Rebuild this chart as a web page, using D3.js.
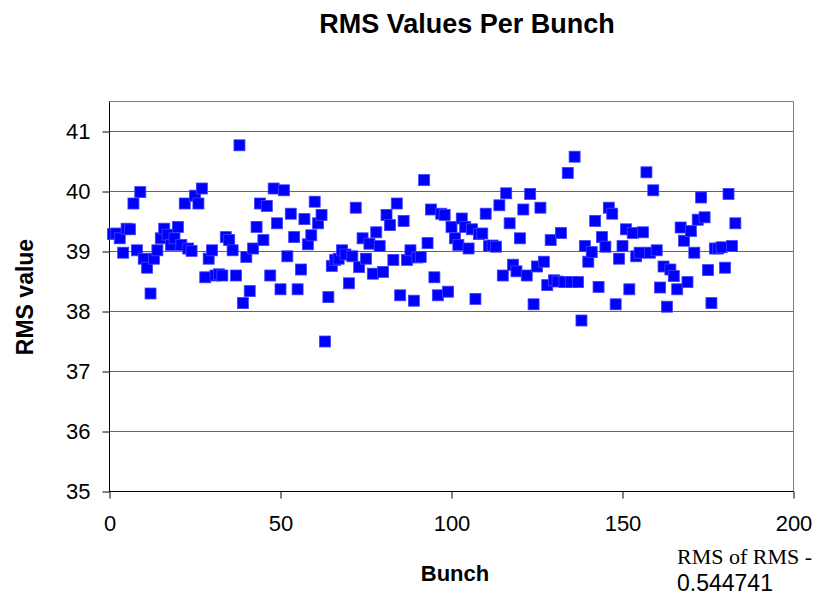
<!DOCTYPE html>
<html>
<head>
<meta charset="utf-8">
<script src="https://cdn.jsdelivr.net/npm/d3@7"></script>
<style>
  body { margin: 0; background: #fff; }
</style>
</head>
<body>
<div id="chart"></div>
<script>
// bunch numbers and their RMS values
let bunches = [
  1, 2, 3, 4, 5, 6, 7, 8, 9, 10, 11, 12, 13, 14, 15, 16, 17, 18, 19, 20,
  21, 22, 23, 24, 25, 26, 27, 28, 29, 30, 31, 32, 33, 34, 35, 36, 37, 38, 39, 40,
  41, 42, 43, 44, 45, 46, 47, 48, 49, 50, 51, 52, 53, 54, 55, 56, 57, 58, 59, 60,
  61, 62, 63, 64, 65, 66, 67, 68, 69, 70, 71, 72, 73, 74, 75, 76, 77, 78, 79, 80,
  81, 82, 83, 84, 85, 86, 87, 88, 89, 90, 91, 92, 93, 94, 95, 96, 97, 98, 99, 100,
  101, 102, 103, 104, 105, 106, 107, 108, 109, 110, 111, 112, 113, 114, 115, 116, 117, 118, 119, 120,
  121, 122, 123, 124, 125, 126, 127, 128, 129, 130, 131, 132, 133, 134, 135, 136, 137, 138, 139, 140,
  141, 142, 143, 144, 145, 146, 147, 148, 149, 150, 151, 152, 153, 154, 155, 156, 157, 158, 159, 160,
  161, 162, 163, 164, 165, 166, 167, 168, 169, 170, 171, 172, 173, 174, 175, 176, 177, 178, 179, 180,
  181, 182, 183
]

let rmsValues = [
  39.29, 39.30, 39.22, 38.98, 39.38, 39.37, 39.80, 39.02, 39.99, 38.88,
  38.73, 38.30, 38.88, 39.02, 39.22, 39.38, 39.28, 39.11, 39.22, 39.41,
  39.11, 39.80, 39.05, 39.01, 39.93, 39.80, 40.05, 38.57, 38.88, 39.02,
  38.60, 38.62, 38.60, 39.24, 39.19, 39.02, 38.60, 40.77, 38.14, 38.91,
  38.34, 39.05, 39.41, 39.80, 39.19, 39.76, 38.60, 40.05, 39.47, 38.37,
  40.02, 38.92, 39.63, 39.24, 38.37, 38.70, 39.54, 39.12, 39.27, 39.83,
  39.47, 39.61, 37.50, 38.24, 38.76, 38.86, 38.88, 39.02, 38.95, 38.47,
  38.92, 39.73, 38.74, 39.22, 38.88, 39.13, 38.63, 39.32, 39.09, 38.66,
  39.61, 39.44, 38.86, 39.80, 38.27, 39.51, 38.86, 39.02, 38.18, 38.90,
  38.91, 40.19, 39.14, 39.70, 38.57, 38.27, 39.63, 39.61, 38.33, 39.41,
  39.22, 39.11, 39.55, 39.41, 39.05, 39.37, 38.21, 39.29, 39.30, 39.63,
  39.09, 39.10, 39.08, 39.77, 38.60, 39.97, 39.47, 38.78, 38.67, 39.22,
  39.70, 38.60, 39.96, 38.12, 38.75, 39.73, 38.83, 38.44, 39.19, 38.52,
  38.50, 39.31, 38.49, 40.31, 38.49, 40.58, 38.49, 37.85, 39.09, 38.83,
  38.99, 39.51, 38.41, 39.24, 39.08, 39.73, 39.63, 38.12, 38.88, 39.09,
  39.37, 38.37, 39.31, 38.92, 38.98, 39.32, 40.32, 38.98, 40.02, 39.02,
  38.40, 38.75, 38.08, 38.70, 38.59, 38.37, 39.40, 39.18, 38.49, 39.34,
  38.98, 39.53, 39.90, 39.57, 38.69, 38.14, 39.05, 39.05, 39.07, 38.73,
  39.96, 39.09, 39.47
]

let xTicks = [0, 50, 100, 150, 200]
let yTicks = [35, 36, 37, 38, 39, 40, 41]

let sans = '"Liberation Sans", Arial, sans-serif'
let serif = '"Liberation Serif", "Times New Roman", serif'

let width = 825
let height = 597

let svg = d3.select('#chart')
  .append('svg')
  .attr('width', width)
  .attr('height', height)
  .style('font-family', sans)

let plot = { left: 109.5, right: 793.5, top: 101.5, bottom: 491.5 }

let xPositionScale = d3.scaleLinear().domain([0, 200]).range([plot.left, plot.right])
let yPositionScale = d3.scaleLinear().domain([35, 41.5]).range([plot.bottom, plot.top])

// grid lines
svg.append('g')
  .selectAll('line')
  .data(yTicks.filter(d => d > 35))
  .enter()
  .append('line')
  .attr('x1', plot.left)
  .attr('x2', plot.right)
  .attr('y1', d => yPositionScale(d))
  .attr('y2', d => yPositionScale(d))
  .attr('stroke', '#666')
  .attr('stroke-width', 1)

// plot area border (top and right)
svg.append('path')
  .attr('d', `M${plot.left},${plot.top}H${plot.right}V${plot.bottom}`)
  .attr('fill', 'none')
  .attr('stroke', '#808080')
  .attr('stroke-width', 1)

let xAxis = d3.axisBottom(xPositionScale)
  .tickValues(xTicks)
  .tickSize(7)
  .tickPadding(17)
svg.append('g')
  .attr('class', 'axis x-axis')
  .attr('transform', `translate(0,${plot.bottom})`)
  .call(xAxis)

let yAxis = d3.axisLeft(yPositionScale)
  .tickValues(yTicks)
  .tickFormat(d3.format('d'))
  .tickSize(7)
  .tickPadding(12)
svg.append('g')
  .attr('class', 'axis y-axis')
  .attr('transform', `translate(${plot.left},0)`)
  .call(yAxis)

svg.selectAll('.axis .domain').remove()
svg.selectAll('.axis line').attr('stroke', '#000')
svg.selectAll('.axis').attr('font-size', 22).attr('font-family', sans)
svg.selectAll('.axis text').attr('fill', '#000')

// axis lines drawn on top of the grid
svg.append('line')
  .attr('x1', plot.left).attr('x2', plot.left)
  .attr('y1', plot.top).attr('y2', plot.bottom)
  .attr('stroke', '#000')
svg.append('line')
  .attr('x1', plot.left).attr('x2', plot.right)
  .attr('y1', plot.bottom).attr('y2', plot.bottom)
  .attr('stroke', '#000')

// points
let points = bunches.map((b, i) => ({ bunch: b, rms: rmsValues[i] }))
let size = 11

svg.append('g')
  .selectAll('rect')
  .data(points)
  .enter()
  .append('rect')
  .attr('x', d => xPositionScale(d.bunch) - size / 2)
  .attr('y', d => yPositionScale(d.rms) - size / 2)
  .attr('width', size)
  .attr('height', size)
  .attr('fill', '#0000ff')
  .attr('stroke', '#4040ff')
  .attr('stroke-width', 0.8)

// titles
svg.append('text')
  .text('RMS Values Per Bunch')
  .attr('x', 467)
  .attr('y', 33)
  .attr('text-anchor', 'middle')
  .attr('font-size', 27)
  .attr('font-weight', 'bold')

svg.append('text')
  .text('Bunch')
  .attr('x', 455)
  .attr('y', 581)
  .attr('text-anchor', 'middle')
  .attr('font-size', 22)
  .attr('font-weight', 'bold')

svg.append('text')
  .text('RMS value')
  .attr('transform', 'translate(33,297) rotate(-90)')
  .attr('text-anchor', 'middle')
  .attr('font-size', 23)
  .attr('font-weight', 'bold')

svg.append('text')
  .text('RMS of RMS -')
  .attr('x', 677)
  .attr('y', 564)
  .attr('font-size', 22)
  .style('font-family', serif)

svg.append('text')
  .text('0.544741')
  .attr('x', 677)
  .attr('y', 591)
  .attr('font-size', 23)
</script>
</body>
</html>
